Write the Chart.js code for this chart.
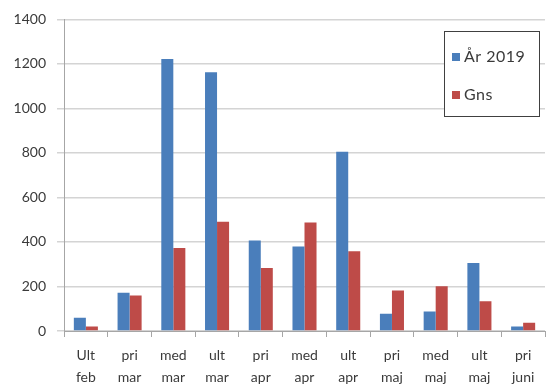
<!DOCTYPE html>
<html>
<head>
<meta charset="utf-8">
<script src="https://cdn.jsdelivr.net/npm/chart.js@4/dist/chart.umd.min.js"></script>
<style>
  html, body { margin: 0; padding: 0; background: #fff; }
  #wrap { width: 546px; height: 387px; position: relative; }
</style>
</head>
<body>
<div id="wrap"><canvas id="c" width="546" height="387"></canvas></div>
<script>
// Period labels (two lines each)
const categories = [
  ['Ult', 'feb'], ['pri', 'mar'], ['med', 'mar'], ['ult', 'mar'],
  ['pri', 'apr'], ['med', 'apr'], ['ult', 'apr'], ['pri', 'maj'],
  ['med', 'maj'], ['ult', 'maj'], ['pri', 'juni']
];
const seriesNames = ['År 2019', 'Gns'];
const year2019 = [60, 172, 1222, 1162, 407, 380, 805, 78, 88, 306, 20];
const average  = [20, 160, 373, 491, 283, 487, 358, 182, 201, 134, 37];
const yTicks = [0, 200, 400, 600, 800, 1000, 1200, 1400];

const FONT = 'Lato, "Open Sans", sans-serif';
const BLUE = '#4a7ebb';
const RED = '#be4b48';

// Boxed legend drawn inside the plot area, top right
const boxLegend = {
  id: 'boxLegend',
  afterDraw(chart) {
    const ctx = chart.ctx;
    const x = 444, y = 31, w = 95, h = 85;
    ctx.save();
    ctx.fillStyle = '#fff';
    ctx.fillRect(x, y, w, h);
    ctx.strokeStyle = '#404040';
    ctx.lineWidth = 1;
    ctx.strokeRect(x + 0.5, y + 0.5, w, h);
    ctx.font = '16px ' + FONT;
    ctx.letterSpacing = '0.5px';
    ctx.textBaseline = 'middle';
    chart.data.datasets.forEach((ds, i) => {
      const cy = y + 26 + i * 38;
      ctx.fillStyle = ds.backgroundColor;
      ctx.fillRect(x + 8, cy - 4, 8, 8);
      ctx.fillStyle = '#3a3a3a';
      ctx.fillText(ds.label, x + 20, cy);
    });
    ctx.restore();
  }
};

new Chart(document.getElementById('c'), {
  type: 'bar',
  data: {
    labels: categories,
    datasets: [
      { label: seriesNames[0], data: year2019, backgroundColor: BLUE },
      { label: seriesNames[1], data: average, backgroundColor: RED }
    ]
  },
  options: {
    responsive: false,
    animation: false,
    layout: { padding: { top: 15, right: 1, left: 0, bottom: 0 } },
    datasets: { bar: { categoryPercentage: 0.55, barPercentage: 1.0 } },
    plugins: { legend: { display: false }, tooltip: { enabled: false } },
    scales: {
      x: {
        grid: { drawOnChartArea: false, offset: true, tickLength: 6, color: '#a6a6a6' },
        border: { color: '#a6a6a6' },
        ticks: {
          color: '#3a3a3a', font: { family: FONT, size: 14, lineHeight: 1.55 },
          maxRotation: 0, autoSkip: false, padding: 8
        },
        afterFit(scale) { scale.height = 56; }
      },
      y: {
        min: 0, max: 1400,
        afterBuildTicks(scale) { scale.ticks = yTicks.map(v => ({ value: v })); },
        grid: { color: '#d4d4d4', lineWidth: 1.5, tickLength: 7 },
        border: { color: '#a6a6a6' },
        ticks: {
          color: '#3a3a3a', font: { family: FONT, size: 14 }, padding: 11,
          callback: v => String(v)
        },
        afterFit(scale) { scale.width = 64; }
      }
    }
  },
  plugins: [boxLegend]
});
</script>
</body>
</html>
